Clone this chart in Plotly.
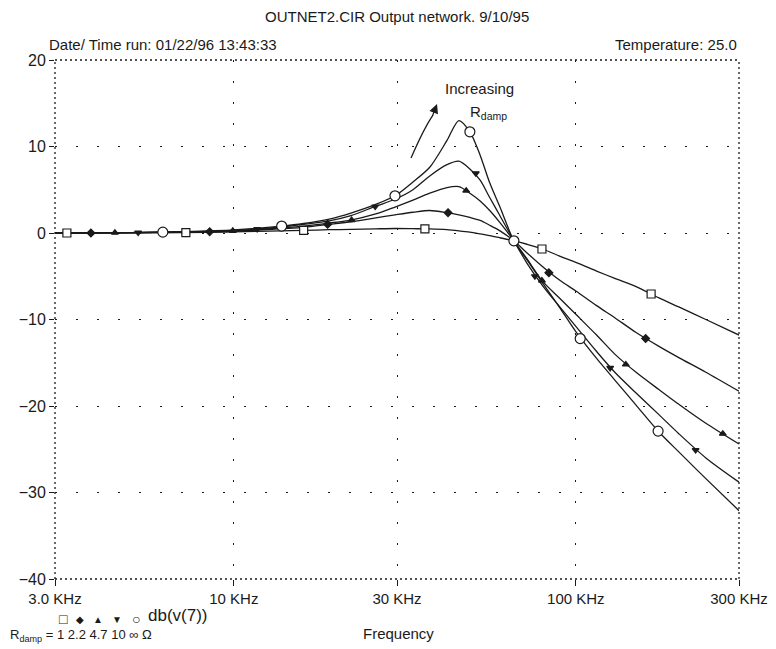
import plotly.graph_objects as go

# frequency grid for the curves, kHz
freq_khz = [3, 5, 7, 10, 13.8, 16, 19, 22, 26, 29.6, 33.4, 37.4, 42, 45.5, 49,
            52.5, 56, 60, 65.9, 72, 80, 90, 100, 115, 130, 150, 175, 200, 240, 300]

# db(v(7)) for each Rdamp
db_r1 = [0, 0.02, 0.05, 0.12, 0.25, 0.3, 0.38, 0.42, 0.48, 0.52, 0.5, 0.47, 0.38, 0.25, 0.1,
         -0.1, -0.3, -0.55, -0.9, -1.3, -1.85, -2.7, -3.4, -4.4, -5.25, -6.2, -7.5, -8.55, -10.0, -11.8]
db_r22 = [0, 0.05, 0.1, 0.2, 0.5, 0.65, 1.0, 1.3, 1.75, 2.1, 2.4, 2.6, 2.35, 2.1, 1.8,
          1.45, 0.9, 0.25, -0.9, -2.3, -3.9, -5.5, -6.7, -8.4, -9.8, -11.5, -13.1, -14.4, -16.1, -18.3]
db_r47 = [0, 0.04, 0.1, 0.25, 0.6, 0.8, 1.15, 1.5, 2.2, 3.0, 3.8, 4.6, 5.25, 5.35, 4.6,
          3.7, 2.6, 1.2, -0.9, -3.0, -5.6, -7.6, -9.4, -11.8, -14.0, -16.1, -18.1, -19.8, -22.0, -24.4]
db_r10 = [0, 0.05, 0.12, 0.3, 0.7, 1.0, 1.4, 2.0, 3.1, 3.9, 5.0, 6.6, 7.9, 8.3, 7.4,
          6.1, 4.1, 2.0, -0.9, -3.5, -6.1, -8.6, -10.8, -13.7, -16.1, -18.5, -21.0, -23.2, -26.0, -28.8]
db_inf = [0, 0.05, 0.15, 0.35, 0.8, 1.1, 1.6, 2.3, 3.3, 4.3, 5.9, 7.6, 10.7, 13.0, 11.7,
          9.0, 5.8, 3.0, -0.9, -3.1, -5.8, -8.7, -11.4, -14.5, -17.0, -19.9, -23.0, -25.3, -28.4, -32.1]

# marker points (PSpice puts symbols only on some points)
sq_f = [3.25, 7.24, 16.0, 36.2, 79.6, 166]
sq_db = [0, 0.05, 0.3, 0.48, -1.85, -7.05]
dia_f = [3.82, 8.5, 18.8, 42.3, 83.4, 160]
dia_db = [0, 0.15, 1.0, 2.35, -4.6, -12.2]
tup_f = [4.49, 9.93, 22.1, 47.8, 79.6, 140, 269]
tup_db = [0.03, 0.25, 1.5, 4.9, -5.5, -15.2, -23.2]
tdn_f = [5.25, 11.7, 25.9, 51, 75.9, 126, 224]
tdn_db = [0.05, 0.45, 3.05, 6.9, -5.0, -15.6, -25.1]
cir_f = [6.2, 13.8, 29.6, 49, 65.9, 103, 174]
cir_db = [0.1, 0.8, 4.3, 11.7, -0.9, -12.2, -22.9]

x_ticks = [3, 10, 30, 100, 300]
x_labels = ['3.0 KHz', '10 KHz', '30 KHz', '100 KHz', '300 KHz']
y_ticks = [-40, -30, -20, -10, 0, 10, 20]

FONT = 'Liberation Sans, Arial, sans-serif'
INK = '#1a1a1a'

fig = go.Figure()

for ys in [db_r1, db_r22, db_r47, db_r10, db_inf]:
    fig.add_trace(go.Scatter(x=freq_khz, y=ys, mode='lines',
                             line=dict(color=INK, width=1.3, shape='spline', smoothing=0.8),
                             showlegend=False, hoverinfo='skip'))

markers = [
    (sq_f, sq_db, 'square', 8, 'white'),
    (dia_f, dia_db, 'diamond', 6, INK),
    (tup_f, tup_db, 'triangle-up', 6, INK),
    (tdn_f, tdn_db, 'triangle-down', 6, INK),
    (cir_f, cir_db, 'circle', 10, 'white'),
]
for fx, fy, sym, sz, fill in markers:
    fig.add_trace(go.Scatter(x=fx, y=fy, mode='markers',
                             marker=dict(symbol=sym, size=sz, color=fill,
                                         line=dict(color=INK, width=1.2)),
                             showlegend=False, hoverinfo='skip'))

fig.update_xaxes(type='log', range=[0.4771, 2.4771], tickvals=x_ticks, ticktext=x_labels,
                 ticks='outside', ticklen=6, tickcolor=INK, showline=False, zeroline=False,
                 showgrid=True, gridcolor=INK, gridwidth=1, griddash='2px,19px',
                 automargin=False, tickfont=dict(family=FONT, size=15, color=INK))
fig.update_yaxes(range=[-40, 20], tickvals=y_ticks, ticks='outside', ticklen=5, tickcolor=INK,
                 showline=False, zeroline=False,
                 showgrid=True, gridcolor=INK, gridwidth=1, griddash='2px,19px',
                 automargin=False, tickfont=dict(family=FONT, size=16, color=INK))

# dotted frame
for x0, y0, x1, y1 in [(0, 0, 1, 0), (0, 1, 1, 1), (0, 0, 0, 1), (1, 0, 1, 1)]:
    fig.add_shape(type='line', xref='paper', yref='paper', x0=x0, y0=y0, x1=x1, y1=y1,
                  line=dict(color=INK, width=1.3, dash='2px,3px'))

# curved arrow
fig.add_shape(type='path', xref='paper', yref='paper',
              path='M 0.5205,0.8112 Q 0.5395,0.869 0.5526,0.894',
              line=dict(color=INK, width=1.3))

def txt(x, y, s, size=15, xanchor='center', **kw):
    fig.add_annotation(x=x, y=y, xref='paper', yref='paper', text=s, showarrow=False,
                       xanchor=xanchor, yanchor='middle',
                       font=dict(family=FONT, size=size, color=INK), **kw)

fig.add_annotation(x=0.5585, y=0.915, xref='paper', yref='paper', text='', showarrow=True,
                   ax=-5, ay=13, arrowhead=2, arrowsize=1.4, arrowwidth=1.3, arrowcolor=INK)

txt(0.5, 1.0 + 43.5 / 519, 'OUTNET2.CIR Output network. 9/10/95', height=17, borderpad=0)
txt(-8 / 684, 1.0 + 15 / 519, 'Date/ Time run: 01/22/96 13:43:33', xanchor='left')
txt(1.0, 1.0 + 15 / 519, 'Temperature: 25.0', xanchor='right')
txt(0.6213, 0.946, 'Increasing')
txt(0.6345, 0.898, 'R<sub>damp</sub>')
txt(0.5015, -54 / 519, 'Frequency')

# symbol key under the axis
for px, g, sz in [(63, '□', 14), (80, '◆', 10), (98, '▲', 10), (117, '▼', 10), (136, '○', 14)]:
    txt((px - 55) / 684, -40 / 519, g, size=sz)
txt((146 - 55) / 684, -36 / 519, 'db(v(7))', size=17, xanchor='left')
txt(-47 / 684, -57 / 519, 'R<sub>damp</sub> = 1 2.2 4.7 10 ∞ Ω', size=13, xanchor='left')

# the page adds an 8px body margin, so the figure is 8px smaller and margins shifted
fig.update_layout(width=768, height=641, margin=dict(l=47, r=37, t=52, b=70),
                  plot_bgcolor='white', paper_bgcolor='white',
                  font=dict(family=FONT, color=INK))

fig.write_html('out.html')
